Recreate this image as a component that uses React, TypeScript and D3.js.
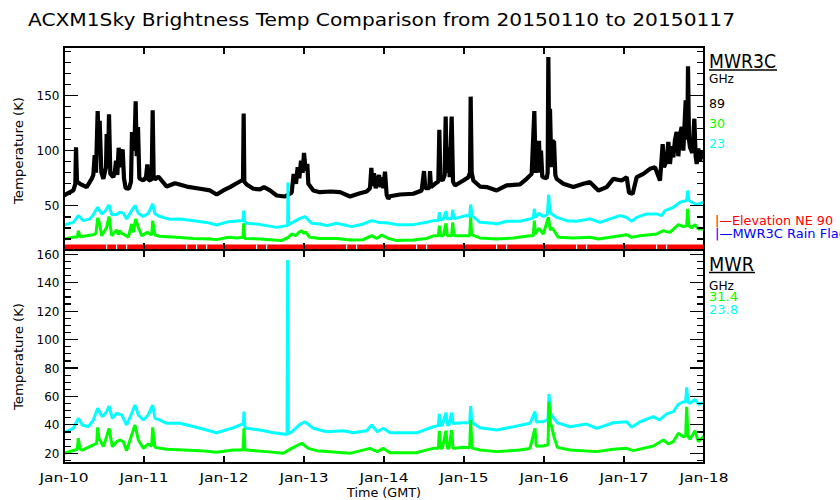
import React from 'react';
import * as d3 from 'd3';

// time in hours since Jan-10 00:00 GMT
const dayLabels = ['Jan-10', 'Jan-11', 'Jan-12', 'Jan-13', 'Jan-14', 'Jan-15', 'Jan-16', 'Jan-17', 'Jan-18'];

// MWR3C 89 GHz [hour, K]
const mwr3c89: [number, number][] = [
  [0, 59.4], [2.8, 64], [3.4, 70], [3.6, 103], [3.9, 72], [4.8, 70], [6.8, 67], [8.3, 74.5], [8.8, 78], [9.2, 96],
  [9.6, 80], [10.1, 136], [10.4, 110], [10.7, 127], [11.2, 80.5], [11.8, 74.5], [12.6, 85], [12.8, 115], [13.3, 100],
  [13.5, 133], [13.9, 79], [14.8, 76], [15.3, 82], [15.6, 91], [16, 78], [16.4, 102.7], [16.8, 85], [17.1, 98],
  [17.6, 101], [18, 75], [18.5, 66], [19.5, 65.5], [20.1, 72], [20.4, 117], [20.8, 100], [21.2, 112], [21.5, 144.8],
  [21.8, 95], [22.2, 121.5], [22.6, 75], [23.8, 73], [24.6, 76], [25, 87.5], [25.4, 73], [26.3, 74], [26.6, 136.6],
  [26.9, 76], [27.3, 74], [28.3, 76.6], [30.8, 67.5], [33.3, 70.5], [36.8, 67.5], [40.8, 65.5], [43.8, 64], [45.8, 60.3],
  [47.8, 64], [49.8, 67], [51.8, 70.5], [53.3, 73], [53.7, 73], [53.9, 133.6], [54.1, 72], [54.8, 69.4], [56.8, 65.5],
  [58.8, 65], [60, 67], [61.8, 64], [63.8, 59.4], [66.3, 58.5], [68.3, 62], [68.9, 79], [69.6, 70], [70.1, 85],
  [70.6, 75], [71.1, 91], [71.6, 80], [72, 98], [72.5, 82], [73, 88], [73.3, 70], [74.8, 64], [76.8, 62.4], [80, 63],
  [82.8, 62.4], [85.8, 58.5], [88.8, 61.5], [90.8, 63], [91.8, 66], [92.2, 84.5], [92.6, 68], [93, 79.5], [93.5, 66],
  [94.5, 78], [95, 67], [95.3, 76], [95.8, 66], [96.3, 81], [96.8, 60], [97.3, 56.4], [97.8, 58.7], [100.8, 60.3],
  [104.8, 61], [107.3, 64], [108, 81.5], [108.4, 66], [109.6, 66], [109.8, 81.5], [110.1, 67], [111.3, 70], [112.3, 72],
  [112.6, 119], [112.9, 75], [113.6, 73], [114.2, 78], [114.5, 131], [114.8, 80], [115.3, 103], [115.7, 76], [116.3, 131],
  [116.7, 72], [117.3, 68.5], [119.8, 73], [121.3, 76], [121.8, 80], [122, 149], [122.3, 80], [122.8, 73], [124.8, 67.5],
  [126.8, 67], [129.8, 64], [132.8, 68.5], [136.8, 69.4], [138.8, 74.5], [140.3, 79], [141.1, 136], [141.5, 80],
  [142.5, 109], [142.8, 80], [143.1, 100], [143.5, 76], [143.8, 76], [144.8, 75], [145.1, 80], [145.3, 185], [145.6, 90],
  [145.8, 138], [146.2, 85], [146.6, 110], [146.8, 88], [147, 109], [147.4, 78], [147.8, 74.5], [149.8, 70], [152.8, 67],
  [155.8, 70], [157.8, 71.5], [160.3, 64], [162.8, 67], [164.8, 74.5], [167.3, 73], [168.8, 76], [169.5, 62], [170.6, 61],
  [171.8, 76], [173.8, 79], [175.8, 83.6], [177.3, 85], [178.8, 73], [179.6, 106], [180, 85], [180.8, 91], [181.3, 108],
  [181.8, 88], [182.3, 104], [182.8, 94], [183.3, 110], [183.8, 117], [184.3, 95], [184.8, 115], [185.3, 121.5],
  [185.8, 100], [186.5, 145.7], [187, 110], [187.2, 176.6], [187.5, 110], [187.8, 103], [188.5, 98], [189.1, 129],
  [189.5, 95], [189.8, 88], [190.3, 102], [190.8, 90], [191.3, 100], [191.8, 93], [192, 96],
];

// MWR3C 30 GHz [hour, K]
const mwr3c30: [number, number][] = [
  [0, 20], [2.8, 21.5], [4, 22], [4.3, 27.5], [4.8, 22], [8.8, 23.9], [9.6, 25], [10.1, 39], [10.6, 35], [11.3, 23],
  [12.8, 30.5], [13.5, 40.3], [14.3, 23], [15.8, 28.2], [16.3, 24], [16.8, 27.5], [17.3, 25], [17.8, 24.5], [19.3, 21.5],
  [20.3, 33.6], [20.8, 26], [21.5, 38.2], [22.3, 30.5], [23.3, 23], [25, 26], [26.3, 23.6], [26.6, 36.6], [27.3, 23.6],
  [28.8, 22.4], [33.8, 21.5], [38.8, 20.5], [43.8, 20], [45.8, 19.4], [49.3, 21.5], [51.8, 20.8], [53.7, 21.5],
  [53.9, 34.2], [54.2, 20.5], [58.8, 20], [62.8, 19.1], [65.3, 18.5], [67.3, 21.5], [68.3, 24.5], [69.5, 23], [70.5, 26],
  [71.3, 27.5], [72, 25], [72.5, 26.5], [73.3, 23], [73.8, 21.5], [76.8, 20.5], [81.8, 20.5], [85.8, 19.1], [89.8, 19.4],
  [92.3, 23], [93.8, 20.5], [95.3, 23.6], [97.3, 20.5], [99.8, 18.5], [104.8, 19.1], [108.8, 20.5], [111, 23],
  [112.3, 23], [112.6, 32], [112.9, 23], [113.8, 23], [114.6, 34.2], [115, 23], [116.3, 23], [116.6, 35], [117, 23],
  [121.7, 23], [122, 39.6], [122.3, 24], [123, 23], [124.8, 20.9], [129.8, 20], [134.8, 20.9], [139.8, 23], [140.8, 23],
  [141.1, 36.6], [141.4, 24.5], [142.5, 29.6], [143.8, 24.5], [145.3, 39.6], [145.9, 28], [146.4, 30], [147, 27.5],
  [148.3, 21.5], [152.8, 20.9], [157.8, 21.5], [160.3, 20], [164.8, 22], [168.8, 23.9], [170.3, 21.5], [172.8, 23],
  [177.8, 24.5], [179.8, 27.5], [181.8, 26], [184.3, 33], [185.8, 31.2], [186.8, 32], [187.1, 47.3], [187.5, 32],
  [188.3, 30], [189.3, 33], [190.3, 29.1], [191.8, 29.1], [192, 28],
];

// MWR3C 23 GHz [hour, K]
const mwr3c23: [number, number][] = [
  [0, 32.7], [2.8, 35], [4.3, 41.2], [5.8, 36.6], [7.8, 38.2], [8.8, 42.1], [10.1, 48.7], [11.3, 42.7], [12.3, 45.1],
  [13.5, 50.9], [14.3, 42.1], [15.8, 42.1], [16.8, 44.2], [17.8, 43.3], [18.8, 38.2], [20.3, 45.7], [21.3, 50.3],
  [22.3, 43.3], [23.8, 40.3], [25.3, 43.3], [26.6, 51.8], [27.3, 42.7], [28.8, 40.3], [31.8, 37.8], [34.8, 38.2],
  [38.8, 36.6], [42.8, 35], [45.8, 32.7], [49.3, 35.7], [52.8, 36.6], [53.7, 36.6], [53.9, 45.7], [54.2, 36], [54.8, 34.2],
  [57.8, 33.6], [60.8, 32.1], [63.8, 30.5], [66.8, 32.1], [67.1, 32], [67.2, 71.2], [67.4, 33], [70.8, 38.7], [72.3, 40.3],
  [74.3, 34.2], [76.8, 33.6], [78.8, 32.1], [81.8, 34.2], [86.3, 31.2], [89.8, 33.6], [92.3, 36.6], [94.6, 35],
  [97.3, 34.5], [99.8, 33], [104.8, 33], [108.8, 35.1], [110.8, 36.6], [112.3, 37], [112.6, 44.2], [112.9, 37],
  [113.8, 38.2], [114.6, 45.1], [115, 38.2], [116.3, 38.5], [116.6, 46.4], [117, 38.2], [120.5, 41.2], [121.7, 40.5],
  [122, 51.2], [122.4, 41], [123, 39.6], [124.8, 35.1], [128.8, 34.2], [129.8, 33.6], [132.8, 36], [136.8, 36],
  [139.8, 38.2], [140.8, 39], [141.1, 47.3], [141.5, 39.6], [142.5, 43.3], [143.8, 40.3], [144.3, 41.2], [145, 42],
  [145.4, 60.3], [145.8, 45], [146.3, 42.7], [147.8, 39.6], [150.8, 36.6], [153.8, 36], [157.8, 38.2], [160.8, 35.1],
  [163.8, 38.2], [166.8, 41.2], [168.8, 39.6], [170.3, 36], [171.8, 39.6], [174.8, 42.7], [177.8, 42.7], [179.3, 41.2],
  [180.3, 45.7], [182.8, 48.7], [184.8, 53.3], [186.8, 55], [187.1, 63.9], [187.5, 55], [188.3, 53.3], [189.8, 51.2],
  [191.8, 53.3], [192, 53],
];

// MWR 23.8 GHz [hour, K]
const mwr238: [number, number][] = [
  [0, 34.5], [2.8, 37.6], [4.3, 44.6], [5.5, 39.9], [7.3, 38.7], [8.8, 43.4], [10.1, 51.7], [11.5, 45.8], [12.8, 49.3],
  [13.5, 53.3], [14.5, 44.6], [15.8, 48.2], [17.3, 47], [18.8, 39.9], [20.3, 48.2], [21.3, 54], [22.3, 47], [23.8, 43.4],
  [25.3, 47], [26.6, 54], [27.3, 44.6], [28.8, 43.4], [30.8, 41.1], [34.8, 41.1], [40.8, 37.6], [45.8, 34.5], [50.8, 38],
  [53.3, 40.4], [53.8, 40.4], [54, 49.3], [54.3, 38], [54.8, 37.6], [58.8, 36.4], [62.8, 34.5], [66.3, 33.4], [66.9, 33.4],
  [67.1, 156], [67.3, 34], [67.8, 34.1], [70.8, 40.4], [72.3, 42.2], [74.8, 37.6], [78.8, 35.2], [83.8, 35.9], [86.8, 34.5],
  [90.8, 35.9], [92.3, 39.9], [94, 35.2], [95.8, 37.6], [97.8, 34.5], [105.8, 34.5], [106.8, 35.2], [110.8, 38.7],
  [112.3, 39.5], [112.6, 47.7], [112.9, 39.5], [113.5, 39.9], [114.6, 48.6], [115, 40], [115.5, 39.9], [116.3, 48.6],
  [116.7, 41], [117.3, 41.1], [119.8, 41.5], [121.7, 41.5], [122, 53.3], [122.4, 41.5], [122.8, 41.1], [124.8, 38],
  [129.8, 36.4], [134.8, 38.7], [139.8, 41.1], [141.3, 49.3], [141.7, 42], [142.3, 42.2], [143.8, 42.2], [145.2, 44],
  [145.5, 61.7], [146, 48], [146.6, 45.8], [148, 41.5], [151.8, 38.7], [156.8, 40.6], [159.8, 37.6], [164.8, 41.5],
  [168.8, 42.2], [170.3, 38.3], [172.8, 42.2], [176.8, 45.8], [178.6, 43.4], [180.8, 47.7], [182.8, 49.3], [184.3, 54.5],
  [185.8, 56.3], [186.5, 56], [186.8, 66.4], [187.2, 56], [187.8, 55.2], [189.3, 58], [190.3, 54.5], [191.8, 55.6], [192, 56],
];

// MWR 31.4 GHz [hour, K]
const mwr314: [number, number][] = [
  [0, 20], [3.3, 22.3], [4, 23], [4.3, 30.6], [4.8, 23], [5.5, 22.3], [8.8, 25.9], [9.8, 27], [10.1, 38.3], [10.5, 30],
  [10.8, 29.4], [11.8, 24.7], [12.8, 31.7], [13.5, 37.6], [14.5, 24.7], [15.8, 28.2], [16.8, 29.4], [17.8, 28.2],
  [18.8, 21.9], [20.3, 32.9], [21.3, 39.9], [22.3, 29.4], [23.8, 23.5], [25.3, 26.6], [26.3, 25], [26.6, 38.3],
  [27.3, 24.2], [30.8, 22.8], [40.8, 21.9], [45.8, 20.7], [50.8, 22.3], [53.7, 22.3], [54, 37.6], [54.3, 22.3],
  [54.8, 22.3], [60.8, 21.2], [65.8, 20], [68.3, 23.5], [71.3, 27.1], [73.3, 23.5], [75.8, 21.9], [85.8, 20], [91.8, 23.5],
  [94, 21.2], [95.8, 23.5], [97.8, 20.4], [105.8, 20.4], [106.8, 21.2], [110.8, 23.5], [112.3, 23.5], [112.6, 35.9],
  [112.9, 23.5], [113.5, 23.5], [114.6, 35.9], [115, 23.5], [115.5, 23.5], [116.3, 36.4], [116.7, 23.5], [117.3, 23.5],
  [119.8, 24.2], [121.7, 24], [122, 43.4], [122.4, 24], [122.8, 23.5], [124.8, 22.3], [129.8, 21.2], [136.8, 22.3],
  [139.8, 23.5], [141.3, 37.6], [141.7, 25], [142.3, 25.2], [143.8, 25.2], [145.2, 26], [145.5, 56.3], [145.9, 40],
  [146.2, 39.9], [147, 31.7], [148, 24.2], [151.8, 22.3], [159.8, 21.2], [164.8, 22.8], [168.8, 23.5], [170.8, 21.9],
  [176.8, 25.2], [179.8, 29.4], [181.3, 26.6], [182.8, 28.2], [184.3, 34.1], [185.8, 31.7], [186.5, 32], [186.8, 52.8],
  [187.2, 32], [187.8, 29.9], [189.3, 35.9], [190.3, 28.2], [191.8, 31.7], [192, 32],
];

// hours where the "Elevation NE 90" flag is not set
const elevGapHours = [12.75, 15.75, 18.75, 36.75, 39.75, 42.75, 57.75, 60.75, 84.75, 87.75, 105.75, 108.75, 129.75,
  132.75, 153.75, 156.75, 177.75, 180.75];

const FONT = 'DejaVu Sans, sans-serif';

export default function App() {
  const X0 = 64, X1 = 704;
  const TOP0 = 47, TOP1 = 250, BOT0 = 250, BOT1 = 463;
  const x = d3.scaleLinear().domain([0, 192]).range([X0, X1]);
  const yTop = d3.scaleLinear().domain([10, 194]).range([TOP1, TOP0]);
  const yBot = d3.scaleLinear().domain([13.2, 163]).range([BOT1, BOT0]);

  const lineTop = d3.line<[number, number]>().x(d => x(d[0])).y(d => yTop(d[1]));
  const lineBot = d3.line<[number, number]>().x(d => x(d[0])).y(d => yBot(d[1]));

  const topTicks = d3.range(10, 191, 10);
  const botTicks = d3.range(15, 161, 5);
  const dayHours = dayLabels.map((_, i) => i * 24);

  const pathStyle = { fill: 'none', strokeLinejoin: 'bevel' as const };

  return (
    <svg width={840} height={500} style={{ position: 'absolute', left: 0, top: 0, background: '#fff' }}
      fontFamily={FONT}>
      <rect x={0} y={0} width={840} height={500} fill="#fff" />
      <defs>
        <clipPath id="clipTop"><rect x={X0} y={TOP0} width={X1 - X0} height={TOP1 - TOP0} /></clipPath>
        <clipPath id="clipBot"><rect x={X0} y={BOT0} width={X1 - X0} height={BOT1 - BOT0} /></clipPath>
      </defs>

      <text x={28} y={26} fontSize={18} textLength={707} lengthAdjust="spacingAndGlyphs">
        ACXM1Sky Brightness Temp Comparison from 20150110 to 20150117
      </text>

      {/* top panel data */}
      <g clipPath="url(#clipTop)">
        <path d={lineTop(mwr3c89) || ''} stroke="#000" strokeWidth={4.2} {...pathStyle} />
        <path d={lineTop(mwr3c23) || ''} stroke="#00ffff" strokeWidth={3} {...pathStyle} />
        <path d={lineTop(mwr3c30) || ''} stroke="#00ff00" strokeWidth={3} {...pathStyle} />
        <rect x={X0} y={244.5} width={X1 - X0} height={5} fill="#ff0000" />
        {elevGapHours.map((h, i) => (
          <rect key={i} x={x(h) - 0.5} y={244.5} width={1.2} height={5} fill="#fff" />
        ))}
      </g>

      {/* bottom panel data */}
      <g clipPath="url(#clipBot)">
        <path d={lineBot(mwr238) || ''} stroke="#00ffff" strokeWidth={3} {...pathStyle} />
        <path d={lineBot(mwr314) || ''} stroke="#00ff00" strokeWidth={3} {...pathStyle} />
      </g>

      {/* frames */}
      <g fill="none" stroke="#000" strokeWidth={1.3} shapeRendering="crispEdges">
        <rect x={X0} y={TOP0} width={X1 - X0} height={TOP1 - TOP0} />
        <rect x={X0} y={BOT0} width={X1 - X0} height={BOT1 - BOT0} />
      </g>

      {/* ticks */}
      <g stroke="#000" strokeWidth={1.2} shapeRendering="crispEdges">
        {topTicks.map(v => {
          const len = v % 50 === 0 ? 14 : 7;
          const yy = yTop(v);
          return (
            <g key={'t' + v}>
              <line x1={X0} x2={X0 + len} y1={yy} y2={yy} />
              <line x1={X1} x2={X1 - len} y1={yy} y2={yy} />
            </g>
          );
        })}
        {botTicks.map(v => {
          const len = v % 20 === 0 ? 14 : 7;
          const yy = yBot(v);
          return (
            <g key={'b' + v}>
              <line x1={X0} x2={X0 + len} y1={yy} y2={yy} />
              <line x1={X1} x2={X1 - len} y1={yy} y2={yy} />
            </g>
          );
        })}
        {dayHours.map(h => (
          <g key={'d' + h}>
            <line x1={x(h)} x2={x(h)} y1={TOP0} y2={TOP0 + 7} />
            <line x1={x(h)} x2={x(h)} y1={TOP1} y2={TOP1 - 7} />
            <line x1={x(h)} x2={x(h)} y1={BOT0} y2={BOT0 + 7} />
            <line x1={x(h)} x2={x(h)} y1={BOT1} y2={BOT1 - 7} />
          </g>
        ))}
      </g>

      {/* y tick labels */}
      <g fontSize={12} textAnchor="end" fill="#000">
        {topTicks.filter(v => v % 50 === 0).map(v => (
          <text key={'tl' + v} x={59.5} y={yTop(v) + 4.5}>{v}</text>
        ))}
        {botTicks.filter(v => v % 20 === 0).map(v => (
          <text key={'bl' + v} x={59.5} y={yBot(v) + 4.5}>{v}</text>
        ))}
      </g>

      {/* x tick labels */}
      <g fontSize={12.5} textAnchor="middle" fill="#000">
        {dayLabels.map((l, i) => (
          <text key={l} x={x(dayHours[i])} y={481.5} textLength={49} lengthAdjust="spacingAndGlyphs">{l}</text>
        ))}
        <text x={384} y={497} textLength={74} lengthAdjust="spacingAndGlyphs">Time (GMT)</text>
      </g>

      {/* y axis titles */}
      <g fontSize={12.5} textAnchor="middle" fill="#000">
        <text transform={`translate(23,${(TOP0 + TOP1) / 2 + 2}) rotate(-90)`} textLength={107}
          lengthAdjust="spacingAndGlyphs">Temperature (K)</text>
        <text transform={`translate(23,${(BOT0 + BOT1) / 2}) rotate(-90)`} textLength={107}
          lengthAdjust="spacingAndGlyphs">Temperature (K)</text>
      </g>

      {/* right-side legends */}
      <g fill="#000">
        <text x={709} y={68} fontSize={19} textLength={67} lengthAdjust="spacingAndGlyphs">MWR3C</text>
        <line x1={709} x2={777} y1={70} y2={70} stroke="#000" strokeWidth={1.5} />
        <text x={709} y={83.3} fontSize={13} textLength={25} lengthAdjust="spacingAndGlyphs">GHz</text>
        <text x={709} y={108.3} fontSize={13} textLength={16} lengthAdjust="spacingAndGlyphs">89</text>
        <text x={709} y={128.3} fontSize={13} fill="#00ff00" textLength={16} lengthAdjust="spacingAndGlyphs">30</text>
        <text x={709} y={148.3} fontSize={13} fill="#00ffff" textLength={16} lengthAdjust="spacingAndGlyphs">23</text>

        <text x={715} y={225} fontSize={13} fill="#ff0000" textLength={118} lengthAdjust="spacingAndGlyphs">|—Elevation NE 90</text>
        <text x={715} y={237.5} fontSize={13} fill="#0000ff" textLength={132} lengthAdjust="spacingAndGlyphs">|—MWR3C Rain Flag</text>

        <text x={709} y={270.7} fontSize={19} textLength={45} lengthAdjust="spacingAndGlyphs">MWR</text>
        <line x1={709} x2={755} y1={272.5} y2={272.5} stroke="#000" strokeWidth={1.5} />
        <text x={709} y={290} fontSize={12} textLength={25} lengthAdjust="spacingAndGlyphs">GHz</text>
        <text x={709} y={301.3} fontSize={12} fill="#00ff00" textLength={29} lengthAdjust="spacingAndGlyphs">31.4</text>
        <text x={709} y={313.8} fontSize={12} fill="#00ffff" textLength={29} lengthAdjust="spacingAndGlyphs">23.8</text>
      </g>
    </svg>
  );
}
